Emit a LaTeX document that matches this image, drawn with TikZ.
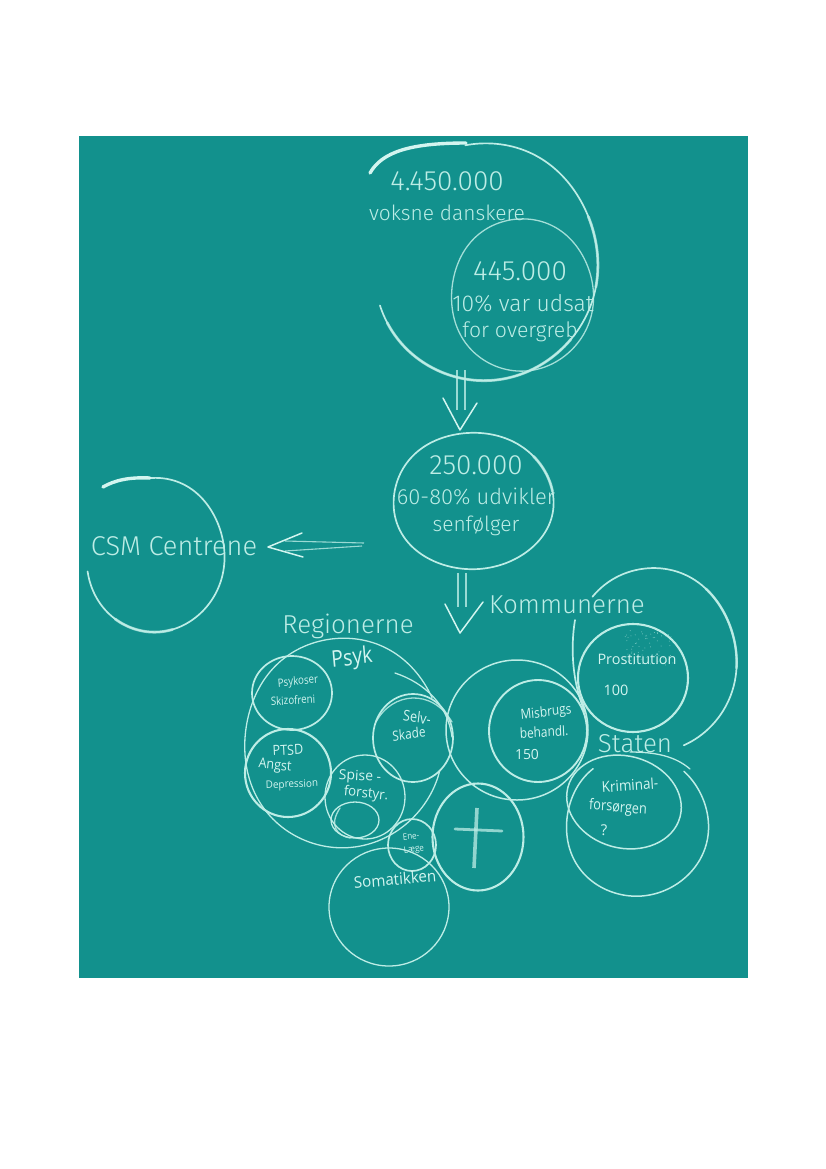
\documentclass[tikz,border=0pt]{standalone}
\usepackage{fontspec}
\setmainfont{Fira Sans Light}
\newfontfamily\handfont{Open Sans}
\usetikzlibrary{shapes.geometric}
\definecolor{teal}{HTML}{12918D}
\definecolor{chalk}{HTML}{BDEDE6}
\definecolor{chalkb}{HTML}{D3F5F0}
\tikzset{
  chalkline/.style={draw=chalk,line width=1.7pt,line cap=round,line join=round},
  thinchalk/.style={draw=chalk,line width=1.3pt,line cap=round,line join=round,opacity=.85},
  thickchalk/.style={draw=chalkb,line width=3.4pt,line cap=round,line join=round},
  midchalk/.style={draw=chalk,line width=2.8pt,line cap=round,line join=round,opacity=.75},
  ring/.style={ellipse,chalkline,inner sep=0pt,outer sep=0pt,minimum width=#1},
  numtext/.style={text=chalk,font=\fontsize{28}{28}\selectfont,inner sep=0pt},
  bigtext/.style={text=chalk,font=\fontsize{26}{26}\selectfont,inner sep=0pt},
  midtext/.style={text=chalk,font=\fontsize{#1}{#1}\selectfont,inner sep=0pt},
  hand/.style={text=chalkb,font=\handfont\fontsize{#1}{#1}\selectfont,inner sep=0pt},
  arrowshaft/.style={draw=chalk,line width=1.1pt,opacity=.8},
  arrowhead/.style={draw=chalkb,line width=1.5pt,line join=round,line cap=round}
}
% style, cx, cy, rx, ry, start angle, end angle
\newcommand{\chalkarc}[7]{\draw[#1] plot[domain=#6:#7,samples=72,smooth,variable=\t]
  ({#2+(#4)*(1+.012*sin(3*\t+40))*cos(\t)},{#3+(#5)*(1+.012*sin(2*\t+110))*sin(\t)});}
\begin{document}
\begin{tikzpicture}[x=1bp,y=-1bp]
\useasboundingbox (0,0) rectangle (826,1169);
\fill[white] (0,0) rectangle (826,1169);
\fill[teal] (79,136) rectangle (748,978);

% ---- top circles
\chalkarc{chalkline}{485}{262}{112}{120}{-100}{159}
\draw[thickchalk] (370,173) .. controls (382,152) and (410,143) .. (466,143);
\chalkarc{midchalk}{485}{262}{112}{120}{-22}{12}
\chalkarc{midchalk}{485}{262}{112}{120}{40}{150}
\chalkarc{thinchalk}{522}{295}{71}{77}{0}{360}
\node[numtext] (n1) at (447,181) {4.450.000};
\node[midtext=21] (n2) at (447,213) {voksne danskere};
\node[numtext] (n3) at (520,271) {445.000};
\node[midtext=23] (n4) at (523,303) {10\% var udsat};
\node[midtext=21.3] (n5) at (520,332) {for overgreb};

% ---- arrow 1
\coordinate (a1s) at (457,370); \coordinate (a1e) at (457,410);
\coordinate (a2s) at (465,370); \coordinate (a2e) at (465,410);
\coordinate (h1a) at (443,398); \coordinate (h1b) at (460,430); \coordinate (h1c) at (477,403);
\draw[arrowshaft] (a1s) -- (a1e); \draw[arrowshaft] (a2s) -- (a2e);
\draw[arrowhead] (h1a) -- (h1b) -- (h1c);

% ---- middle circle
\chalkarc{chalkline}{473}{501}{80}{69}{0}{360}
\chalkarc{midchalk}{473}{501}{80}{69}{-40}{-8}
\node[numtext] (n6) at (476,465) {250.000};
\node[midtext=22] (n7) at (476,497) {60-80\% udvikler};
\node[midtext=21] (n8) at (476,526) {senfølger};

% ---- arrow 2
\coordinate (b1s) at (458,573); \coordinate (b1e) at (458,607);
\coordinate (b2s) at (466,573); \coordinate (b2e) at (466,607);
\coordinate (h2a) at (445,604); \coordinate (h2b) at (460,633); \coordinate (h2c) at (483,602);
\draw[arrowshaft] (b1s) -- (b1e); \draw[arrowshaft] (b2s) -- (b2e);
\draw[arrowhead] (h2a) -- (h2b) -- (h2c);

% ---- left arrow + CSM
\coordinate (c1s) at (364,543); \coordinate (c1e) at (285,541);
\coordinate (c2s) at (362,546); \coordinate (c2e) at (285,551);
\coordinate (h3a) at (302,533); \coordinate (h3b) at (268,547); \coordinate (h3c) at (303,557);
\draw[arrowshaft] (c1s) -- (c1e); \draw[arrowshaft] (c2s) -- (c2e);
\draw[arrowhead] (h3a) -- (h3b) -- (h3c);
\chalkarc{chalkline}{155}{555}{69}{78}{-95}{168}
\draw[thickchalk] (103,487) .. controls (115,480) and (130,477) .. (150,478);
\chalkarc{midchalk}{155}{555}{69}{78}{75}{125}
\node[bigtext,font=\fontsize{27.3}{27.3}\selectfont] (n9) at (174,546) {CSM Centrene};

% ---- headings
\node[bigtext] (n10) at (348,626) {Regionerne};
\node[bigtext] (n11) at (567,605) {Kommunerne};
\node[bigtext] (n12) at (635,744) {Staten};

% ---- Regionerne circle
\chalkarc{chalkline,line width=1.3pt}{343}{743}{99}{106}{15}{335}
\draw[chalkline,line width=1.3pt] (395,673) .. controls (425,683) and (448,705) .. (452,737);
\node[hand=23,xscale=.85,rotate=6] (n13) at (352,659) {Psyk};

\node[ring=80bp,minimum height=74bp] (r1) at (292,693) {};
\node[hand=11.5,xscale=.85,rotate=5] (t1a) at (298,682) {Psykoser};
\node[hand=11.5,xscale=.85,rotate=3] (t1b) at (293,700) {Skizofreni};
\node[ring=86bp,minimum height=88bp,line width=2.1pt] (r2) at (288,773) {};
\node[hand=14,xscale=.9,rotate=3] (t2a) at (288,750) {PTSD};
\node[hand=14,xscale=.9,rotate=-6] (t2b) at (275,766) {Angst};
\node[hand=10.5,xscale=.95,rotate=2] (t2c) at (292,785) {Depression};
\node[ring=80bp,minimum height=88bp] (r3) at (413,738) {};
\draw[thinchalk] (376,722) .. controls (392,692) and (432,688) .. (452,722);
\node[hand=15,xscale=.85,rotate=-8] (t3a) at (417,717) {Selv-};
\node[hand=14,xscale=.85,rotate=6] (t3b) at (409,734) {Skade};
\node[ring=80bp,minimum height=84bp,line width=1.3pt] (r4) at (365,797) {};
\node[hand=14,rotate=-3] (t4a) at (360,777) {Spise -};
\node[hand=14,xscale=.95,rotate=-6] (t4b) at (366,794) {forstyr.};
\node[ring=48bp,minimum height=36bp,line width=1.3pt] (r5) at (355,820) {};
\draw[thinchalk] (340,808) .. controls (328,826) and (338,836) .. (350,838);
\node[ring=48bp,minimum height=52bp] (r6) at (412,845) {};
\node[hand=9,xscale=.9,rotate=6] (t6a) at (411,836) {Ene-};
\node[hand=9,xscale=.9,rotate=6] (t6b) at (414,850) {Læge};
\node[ring=120bp,minimum height=118bp,line width=1.3pt] (r7) at (389,907) {};
\node[hand=16,xscale=.95,rotate=5] (t7) at (395,879) {Somatikken};

% ---- cross circle
\node[ring=91bp,minimum height=107bp,line width=2.1pt] (r8) at (478,837) {};
\coordinate (cr1) at (477,808); \coordinate (cr2) at (474,868);
\coordinate (cr3) at (455,829); \coordinate (cr4) at (502,831);
\draw[midchalk,line width=3.6pt,line cap=butt] (cr1) -- (cr2);
\draw[midchalk] (cr3) -- (cr4);

% ---- Kommunerne circles
\node[ring=142bp,minimum height=140bp,line width=1.5pt] (r9) at (517,730) {};
\node[ring=98bp,minimum height=102bp,line width=1.9pt] (r10) at (538,731) {};
\node[hand=14,xscale=.85,rotate=6] (t10a) at (546,713) {Misbrugs};
\node[hand=14,xscale=.85,rotate=3] (t10b) at (544,732) {behandl.};
\node[hand=14] (t10c) at (527,755) {150};

% ---- Prostitution
\node[ring=110bp,minimum height=108bp,line width=2.1pt] (r11) at (633,678) {};
\node[hand=14.5] (t11a) at (637,659) {Prostitution};
\node[hand=14.5] (t11b) at (616,690) {100};
\pgfmathsetseed{7}
\foreach \i in {1,...,70}{
  \pgfmathsetmacro{\dx}{625+rnd*50}\pgfmathsetmacro{\dy}{630+rnd*35}
  \fill[chalk,opacity=.6] (\dx,\dy) circle (.5bp);
}
\draw[chalkline] (575,620) .. controls (570,650) and (573,685) .. (585,712);
\chalkarc{chalkline}{653}{660}{83}{93}{-137}{68}
\chalkarc{thinchalk,line width=2.4pt}{653}{660}{83}{93}{-50}{5}

% ---- Staten circles
\node[ring=116bp,minimum height=92bp,line width=1.5pt,rotate=-15] (r12) at (624,802) {};
\node[hand=15,xscale=.9,rotate=4] (t12a) at (630,785) {Kriminal-};
\node[hand=15,xscale=.85,rotate=-4] (t12b) at (618,808) {forsørgen};
\node[hand=15] (t12c) at (604,830) {?};
\chalkarc{chalkline,line width=1.5pt}{637}{825}{71}{72}{-48}{232}
\draw[chalkline,line width=1.3pt] (630,752) .. controls (655,752) and (675,756) .. (690,769);
\end{tikzpicture}
\end{document}
